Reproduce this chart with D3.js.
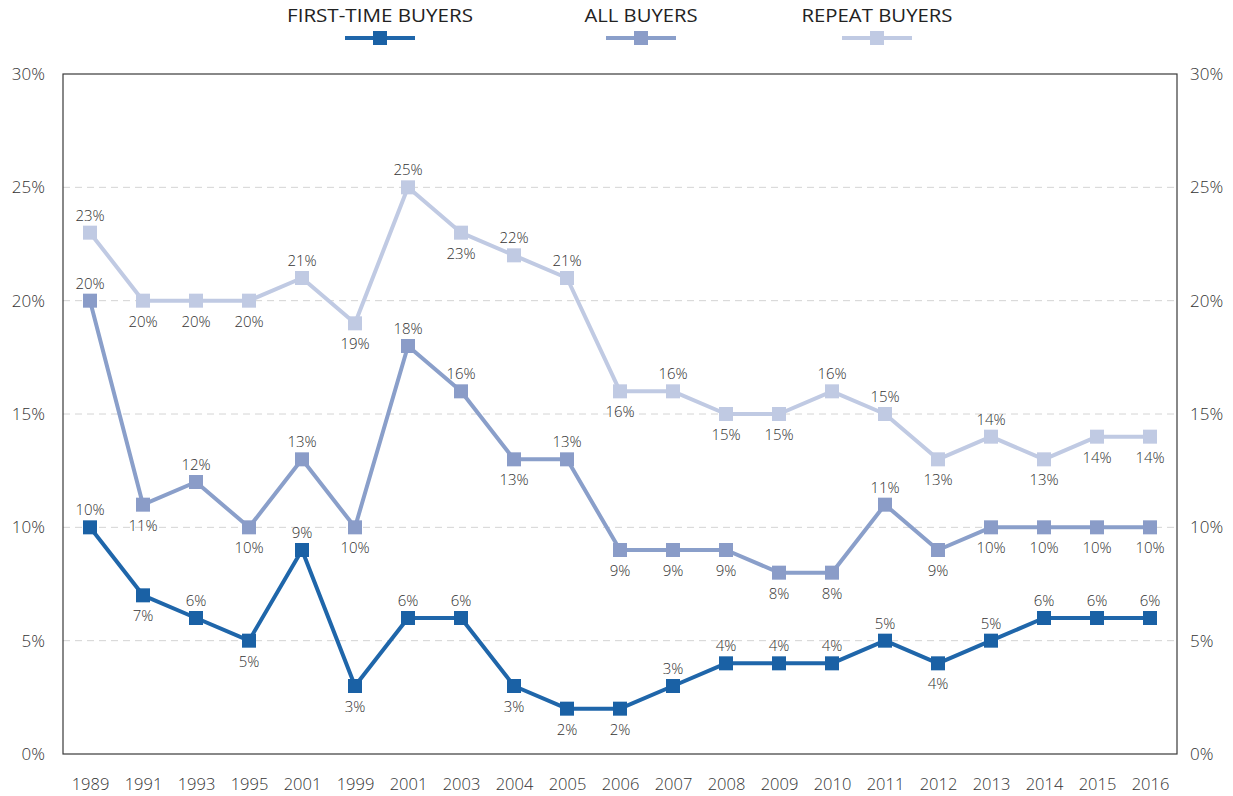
<!DOCTYPE html>
<html>
<head>
<meta charset="utf-8">
<script src="https://cdn.jsdelivr.net/npm/d3@7"></script>
<style>
  body { margin: 0; background: #fff; }
  svg { display: block; font-family: "Open Sans", "Noto Sans", sans-serif; }
</style>
</head>
<body>
<svg id="chart" width="1233" height="796"></svg>
<script>
// Survey years as printed along the axis
const years = ["1989","1991","1993","1995","2001","1999","2001","2003","2004","2005","2006","2007","2008","2009","2010","2011","2012","2013","2014","2015","2016"];

// Percent of buyers per year
const firstTime = [10,7,6,5,9,3,6,6,3,2,2,3,4,4,4,5,4,5,6,6,6];
const allBuyers = [20,11,12,10,13,10,18,16,13,13,9,9,9,8,8,11,9,10,10,10,10];
const repeat    = [23,20,20,20,21,19,25,23,22,21,16,16,15,15,16,15,13,14,13,14,14];

// Label side for each point: 1 = above, -1 = below
const firstTimeSide = [1,-1,1,-1,1,-1,1,1,-1,-1,-1,1,1,1,1,1,-1,1,1,1,1];
const allSide       = [1,-1,1,-1,1,-1,1,1,-1,1,-1,-1,-1,-1,-1,1,-1,-1,-1,-1,-1];
const repeatSide    = [1,-1,-1,-1,1,-1,1,-1,1,1,-1,1,-1,-1,1,1,-1,1,-1,-1,-1];

const yTicks = [0,5,10,15,20,25,30];

const series = [
  { name: "REPEAT BUYERS",     values: repeat,    side: repeatSide,    line: "#c0cae3", mark: "#c0cae3", lx: 877, tl: 151 },
  { name: "ALL BUYERS",        values: allBuyers, side: allSide,       line: "#8a9fca", mark: "#8a9cc8", lx: 641, tl: 113 },
  { name: "FIRST-TIME BUYERS", values: firstTime, side: firstTimeSide, line: "#1f66aa", mark: "#1a61a5", lx: 380, tl: 186 }
];

const svg = d3.select("#chart");
const plotL = 63, plotR = 1177, plotT = 74, plotB = 754;

const x = d3.scalePoint().domain(d3.range(years.length)).range([90, 1150]);
const y = d3.scaleLinear().domain([0, 30]).range([plotB, plotT]);

// Dashed gridlines
svg.append("g").selectAll("line")
  .data(yTicks.filter(t => t > 0 && t < 30))
  .join("line")
  .attr("x1", plotL).attr("x2", plotR)
  .attr("y1", d => y(d)).attr("y2", d => y(d))
  .attr("stroke", "#d4d4d4").attr("stroke-width", 1)
  .attr("stroke-dasharray", "7,5");

// Frame
svg.append("rect")
  .attr("x", plotL).attr("y", plotT)
  .attr("width", plotR - plotL).attr("height", plotB - plotT)
  .attr("fill", "none").attr("stroke", "#3a3a3a").attr("stroke-width", 1.2);

// Y axes on both sides
const yLeft = d3.axisLeft(y).tickValues(yTicks).tickFormat(d => d + "%").tickSize(0).tickPadding(18);
const yRight = d3.axisRight(y).tickValues(yTicks).tickFormat(d => d + "%").tickSize(0).tickPadding(13);
[svg.append("g").attr("transform", `translate(${plotL},0)`).call(yLeft),
 svg.append("g").attr("transform", `translate(${plotR},0)`).call(yRight)].forEach(g => {
  g.select(".domain").remove();
  g.selectAll("text").attr("font-size", 17).attr("fill", "#333")
    .attr("font-family", "Open Sans, sans-serif").attr("font-weight", 300);
});

// X axis labels
const xAxis = d3.axisBottom(x).tickFormat(i => years[i]).tickSize(0).tickPadding(24);
const gx = svg.append("g").attr("transform", `translate(0,${plotB})`).call(xAxis);
gx.select(".domain").remove();
gx.selectAll("text").attr("font-size", 16.5).attr("fill", "#333")
  .attr("font-family", "Open Sans, sans-serif").attr("font-weight", 300);

const line = d3.line().x((d, i) => x(i)).y(d => y(d));
const sq = 14;

series.forEach(s => {
  const g = svg.append("g");
  g.append("path").datum(s.values)
    .attr("d", line).attr("fill", "none")
    .attr("stroke", s.line).attr("stroke-width", 4).attr("stroke-linejoin", "round");
  g.selectAll("rect").data(s.values).join("rect")
    .attr("x", (d, i) => x(i) - sq / 2).attr("y", d => y(d) - sq / 2)
    .attr("width", sq).attr("height", sq).attr("fill", s.mark);
  g.selectAll("text").data(s.values).join("text")
    .attr("x", (d, i) => x(i))
    .attr("y", (d, i) => s.side[i] > 0 ? y(d) - 12 : y(d) + 26)
    .attr("text-anchor", "middle")
    .attr("font-size", 15).attr("font-weight", 300).attr("fill", "#333")
    .text(d => d + "%");
});

// Legend
const leg = svg.append("g");
series.forEach(s => {
  leg.append("text").attr("x", s.lx).attr("y", 22)
    .attr("text-anchor", "middle").attr("font-size", 18).attr("fill", "#222")
    .attr("font-family", "Open Sans, sans-serif")
    .attr("textLength", s.tl)
    .attr("lengthAdjust", "spacingAndGlyphs")
    .text(s.name);
  leg.append("line").attr("x1", s.lx - 35).attr("x2", s.lx + 35)
    .attr("y1", 38).attr("y2", 38).attr("stroke", s.line).attr("stroke-width", 4);
  leg.append("rect").attr("x", s.lx - 7).attr("y", 31).attr("width", 14).attr("height", 14).attr("fill", s.mark);
});
</script>
</body>
</html>
